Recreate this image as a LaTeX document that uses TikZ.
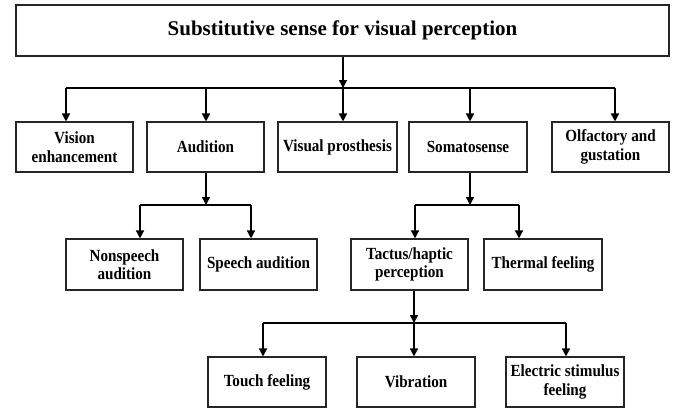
\documentclass[tikz,border=0pt]{standalone}
\usepackage{fontspec}
\setmainfont{Liberation Serif}
\newfontfamily\condfont[FakeStretch=0.89]{Liberation Serif}
\usetikzlibrary{arrows.meta}
\begin{document}
\begin{tikzpicture}[x=1pt,y=-1pt,
  box/.style={draw=black!85, line width=1.1pt, minimum height=50pt, inner sep=1pt, align=center, font=\condfont\bfseries\fontsize{17}{18.5}\selectfont},
  arr/.style={line width=1.4pt, -{Triangle[length=8pt,width=8pt]}},
  ln/.style={line width=1.4pt}]
\useasboundingbox (0,0) rectangle (676,410);
% boxes
\node[box, minimum width=653pt, minimum height=51pt, font=\bfseries\fontsize{21}{24}\selectfont] (top) at (342.5,30.5) {Substitutive sense for visual perception};
\node[box, minimum width=117pt] (vision) at (74.5,147) {Vision\\enhancement};
\node[box, minimum width=117pt] (aud) at (205.5,147) {Audition};
\node[box, minimum width=119pt] (pros) at (337.5,147) {Visual prosthesis};
\node[box, minimum width=118pt] (soma) at (468,147) {Somatosense};
\node[box, minimum width=117pt] (olf) at (610.5,147) {Olfactory and\\gustation};
\node[box, minimum width=117pt, minimum height=51pt] (nons) at (124.5,264.5) {Nonspeech\\audition};
\node[box, minimum width=117pt, minimum height=51pt] (speech) at (258.5,264.5) {Speech audition};
\node[box, minimum width=117pt, minimum height=51pt] (tact) at (409.5,264.5) {Tactus/haptic\\perception};
\node[box, minimum width=118pt, minimum height=51pt] (therm) at (543,264.5) {Thermal feeling};
\node[box, minimum width=118pt] (touch) at (267,382) {Touch feeling};
\node[box, minimum width=118pt] (vib) at (416,382) {Vibration};
\node[box, minimum width=118pt] (elec) at (565,382) {Electric stimulus\\feeling};
% junction coordinates
\coordinate (j0) at (343,88);
\coordinate (j1) at (66,88);
\coordinate (j2) at (206,88);
\coordinate (j4) at (470,88);
\coordinate (j5) at (615,88);
\coordinate (ja) at (206,205);
\coordinate (ja1) at (140,205);
\coordinate (ja2) at (251,205);
\coordinate (js) at (470,205);
\coordinate (js1) at (415,205);
\coordinate (js2) at (519,205);
\coordinate (jt) at (414,323);
\coordinate (jt1) at (263,323);
\coordinate (jt3) at (566,323);
% level 1
\draw[arr] (j0 |- top.south) -- (j0);
\draw[ln] (j1) -- (j5);
\draw[arr] (j1) -- (j1 |- vision.north);
\draw[arr] (j2) -- (j2 |- aud.north);
\draw[arr] (j0) -- (j0 |- pros.north);
\draw[arr] (j4) -- (j4 |- soma.north);
\draw[arr] (j5) -- (j5 |- olf.north);
% audition
\draw[arr] (ja |- aud.south) -- (ja);
\draw[ln] (ja1) -- (ja2);
\draw[arr] (ja1) -- (ja1 |- nons.north);
\draw[arr] (ja2) -- (ja2 |- speech.north);
% somatosense
\draw[arr] (js |- soma.south) -- (js);
\draw[ln] (js1) -- (js2);
\draw[arr] (js1) -- (js1 |- tact.north);
\draw[arr] (js2) -- (js2 |- therm.north);
% tactus
\draw[arr] (jt |- tact.south) -- (jt);
\draw[ln] (jt1) -- (jt3);
\draw[arr] (jt1) -- (jt1 |- touch.north);
\draw[arr] (jt) -- (jt |- vib.north);
\draw[arr] (jt3) -- (jt3 |- elec.north);
\end{tikzpicture}
\end{document}
